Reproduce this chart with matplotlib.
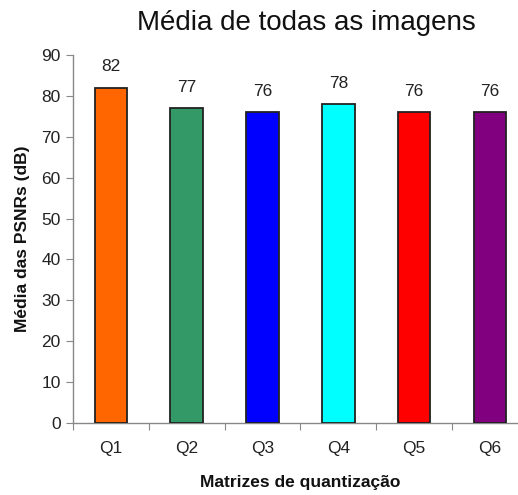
# Mean PSNR per quantization matrix, one bar each
import numpy as np
import matplotlib.pyplot as plt

plt.rcParams['font.family'] = ['Liberation Sans', 'DejaVu Sans']

# data
categories = ['Q1', 'Q2', 'Q3', 'Q4', 'Q5', 'Q6']
psnr_mean = [82, 77, 76, 78, 76, 76]
bar_colors = ['#ff6600', '#339966', '#0000ff', '#00ffff', '#ff0000', '#800080']

fig = plt.figure(figsize=(5.18, 4.95), dpi=100)
ax = fig.add_axes([0.141, 0.1455, 0.878, 0.7434])

x = np.arange(len(categories))
bars = ax.bar(x, psnr_mean, width=0.43, color=bar_colors,
              edgecolor='#222222', linewidth=1.3, zorder=3)

# value labels on top of the bars
for xi, v in zip(x, psnr_mean):
    ax.text(xi, v + 3.3, str(v), ha='center', va='bottom', fontsize=12.5,
            color='#222222')

ax.set_xlim(-0.5, len(categories) - 0.5)
ax.set_ylim(0, 90)
ax.set_yticks(np.arange(0, 91, 10))

# category names between the boundary ticks
ax.set_xticks(np.arange(-0.5, len(categories), 1.0))
ax.set_xticklabels([])
ax.set_xticks(x, minor=True)
ax.set_xticklabels(categories, minor=True, fontsize=12.5, color='#222222')
ax.tick_params(axis='x', which='minor', length=0, pad=13)
ax.tick_params(axis='x', which='major', length=5, color='#888888')
ax.tick_params(axis='y', length=5, color='#888888', labelsize=12.5,
               labelcolor='#222222', pad=4)

for side in ['top', 'right']:
    ax.spines[side].set_visible(False)
for side in ['left', 'bottom']:
    ax.spines[side].set_color('#888888')
    ax.spines[side].set_linewidth(1.0)

ax.set_ylabel('Média das PSNRs (dB)', fontsize=12.5, fontweight='bold',
              labelpad=8, color='#111111')
ax.set_xlabel('Matrizes de quantização', fontsize=12.5, fontweight='bold',
              labelpad=14, color='#111111')
fig.text(0.591, 0.954, 'Média de todas as imagens', ha='center', va='center',
         fontsize=20, color='#111111')

fig.savefig('out.png', dpi=100)
